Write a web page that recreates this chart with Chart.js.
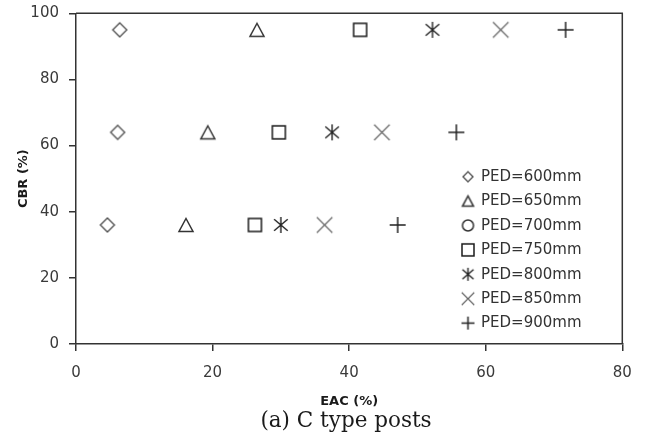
<!DOCTYPE html>
<html>
<head>
<meta charset="utf-8">
<title>CBR vs EAC — C type posts</title>
<script src="https://cdn.jsdelivr.net/npm/chart.js@4/dist/chart.umd.min.js"></script>
<style>
  html, body { margin: 0; padding: 0; background: #ffffff; }
  #wrap { width: 645px; height: 447px; }
</style>
</head>
<body>
<div id="wrap"><canvas id="chart" width="645" height="447"></canvas></div>
<script>
// CBR levels tested (y values shared by every series)
const cbrLevels = [95, 64, 36];

// EAC (%) for each embedment depth, in the order of cbrLevels
const eac600 = [6.4, 6.1, 4.6];
const eac650 = [26.5, 19.3, 16.1];
const eac700 = [];
const eac750 = [41.6, 29.7, 26.2];
const eac800 = [52.2, 37.5, 30.0];
const eac850 = [62.2, 44.8, 36.4];
const eac900 = [71.7, 55.7, 47.1];

const seriesLabels = ['PED=600mm', 'PED=650mm', 'PED=700mm', 'PED=750mm', 'PED=800mm', 'PED=850mm', 'PED=900mm'];
const xTickValues = [0, 20, 40, 60, 80];
const yTickValues = [0, 20, 40, 60, 80, 100];
const caption = '(a) C type posts';

// Outline marker drawn into a small canvas so it can be used as a pointStyle
function marker(kind, s, color, lw) {
  const size = Math.ceil(s + lw + 4);
  const cv = document.createElement('canvas');
  cv.width = size; cv.height = size;
  const g = cv.getContext('2d');
  const c = size / 2, h = s / 2;
  g.strokeStyle = color;
  g.lineWidth = lw;
  g.lineJoin = 'miter';
  g.beginPath();
  switch (kind) {
    case 'diamond':
      g.moveTo(c, c - h); g.lineTo(c + h, c); g.lineTo(c, c + h); g.lineTo(c - h, c); g.closePath();
      break;
    case 'triangle': {
      const th = s * 0.93 / 2;
      g.moveTo(c, c - th); g.lineTo(c + h, c + th); g.lineTo(c - h, c + th); g.closePath();
      break;
    }
    case 'circle':
      g.arc(c, c, h, 0, Math.PI * 2);
      break;
    case 'square':
      g.rect(c - h, c - h, s, s);
      break;
    case 'asterisk':
      g.moveTo(c, c - h); g.lineTo(c, c + h);
      g.moveTo(c - 0.85 * h, c - 0.72 * h); g.lineTo(c + 0.85 * h, c + 0.72 * h);
      g.moveTo(c + 0.85 * h, c - 0.72 * h); g.lineTo(c - 0.85 * h, c + 0.72 * h);
      break;
    case 'cross':
      g.moveTo(c - h, c - h); g.lineTo(c + h, c + h);
      g.moveTo(c + h, c - h); g.lineTo(c - h, c + h);
      break;
    case 'plus':
      g.moveTo(c - h, c); g.lineTo(c + h, c);
      g.moveTo(c, c - h); g.lineTo(c, c + h);
      break;
  }
  g.stroke();
  return cv;
}

const styles = [
  { kind: 'diamond',  size: 14,   legend: 10,   color: '#555555', lw: 1.4 },
  { kind: 'triangle', size: 14,   legend: 11,   color: '#333333', lw: 1.5 },
  { kind: 'circle',   size: 13,   legend: 11,   color: '#333333', lw: 1.5 },
  { kind: 'square',   size: 13,   legend: 12,   color: '#1a1a1a', lw: 1.5 },
  { kind: 'asterisk', size: 16,   legend: 13,   color: '#222222', lw: 1.4 },
  { kind: 'cross',    size: 15.5, legend: 12.5, color: '#666666', lw: 1.2 },
  { kind: 'plus',     size: 16,   legend: 13,   color: '#222222', lw: 1.5 }
];

const eacSeries = [eac600, eac650, eac700, eac750, eac800, eac850, eac900];

const datasets = eacSeries.map((xs, i) => ({
  label: seriesLabels[i],
  data: xs.map((x, j) => ({ x: x, y: cbrLevels[j] })),
  pointStyle: marker(styles[i].kind, styles[i].size, styles[i].color, styles[i].lw),
  legendMarker: marker(styles[i].kind, styles[i].legend, styles[i].color, styles[i].lw),
  pointRadius: 8,
  showLine: false
}));

// Box around the plot area, the in-plot legend and the caption underneath
const framePlugin = {
  id: 'frame',
  afterDraw(chart) {
    const { ctx, chartArea: a } = chart;
    ctx.save();
    ctx.strokeStyle = '#333333';
    ctx.lineWidth = 1.5;
    ctx.beginPath();
    ctx.moveTo(a.left, a.top); ctx.lineTo(a.right, a.top); ctx.lineTo(a.right, a.bottom);
    ctx.stroke();

    const x0 = 468, y0 = 176.7, step = 24.4;
    ctx.font = '15px "DejaVu Sans"';
    ctx.fillStyle = '#333333';
    ctx.textAlign = 'left';
    ctx.textBaseline = 'middle';
    chart.data.datasets.forEach((ds, i) => {
      const y = y0 + i * step;
      const m = ds.legendMarker;
      ctx.drawImage(m, x0 - m.width / 2, y - m.height / 2);
      ctx.fillText(ds.label, x0 + 13, y + 0.5);
    });

    ctx.font = '21.5px "DejaVu Serif"';
    ctx.fillStyle = '#1a1a1a';
    ctx.textAlign = 'center';
    ctx.textBaseline = 'middle';
    ctx.fillText(caption, 346, 421);
    ctx.restore();
  }
};

const axisColor = '#333333';
const tickFont = { family: 'DejaVu Sans', size: 15 };
const titleFont = { family: 'DejaVu Sans', size: 13, weight: 'bold' };

// Let the layout padding alone decide where the plot box sits
function noLabelOverflow(scale) {
  scale.paddingTop = 0; scale.paddingBottom = 0;
  scale.paddingLeft = 0; scale.paddingRight = 0;
}

new Chart(document.getElementById('chart'), {
  type: 'scatter',
  data: { datasets: datasets },
  options: {
    responsive: false,
    animation: false,
    events: [],
    layout: { padding: { top: 13.3, right: 22.7, left: 0, bottom: 37.4 } },
    plugins: {
      legend: { display: false },
      tooltip: { enabled: false },
      title: { display: false }
    },
    scales: {
      x: {
        type: 'linear',
        min: 0, max: 80,
        afterBuildTicks(scale) { scale.ticks = xTickValues.map(v => ({ value: v })); },
        afterFit(scale) { scale.height = 65.6; noLabelOverflow(scale); },
        border: { display: true, color: axisColor, width: 1.5 },
        grid: { display: true, drawOnChartArea: false, drawTicks: true, tickLength: 7, color: axisColor, lineWidth: 1.5 },
        ticks: { font: tickFont, color: '#3a3a3a', padding: 13, maxRotation: 0 },
        title: { display: true, text: 'EAC (%)', font: titleFont, color: '#1a1a1a', padding: { top: 0, bottom: 0 } }
      },
      y: {
        type: 'linear',
        min: 0, max: 100,
        afterBuildTicks(scale) { scale.ticks = yTickValues.map(v => ({ value: v })); },
        afterFit(scale) { scale.width = 76; noLabelOverflow(scale); },
        border: { display: true, color: axisColor, width: 1.5 },
        grid: { display: true, drawOnChartArea: false, drawTicks: true, tickLength: 7, color: axisColor, lineWidth: 1.5 },
        ticks: { font: tickFont, color: '#3a3a3a', padding: 10 },
        title: { display: true, text: 'CBR (%)', font: titleFont, color: '#1a1a1a', padding: { top: 16, bottom: 0 } }
      }
    }
  },
  plugins: [framePlugin]
});
</script>
</body>
</html>
